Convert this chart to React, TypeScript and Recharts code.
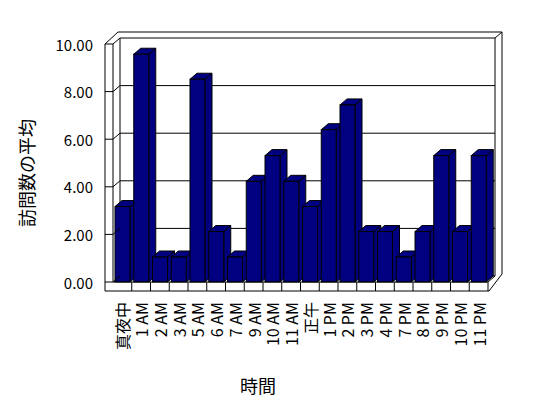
import React from 'react';
import { BarChart, Bar, XAxis, YAxis, CartesianGrid, Customized } from 'recharts';

// hours shown on the category axis
const hours = ['真夜中', '1 AM', '2 AM', '3 AM', '5 AM', '6 AM', '7 AM', '9 AM', '10 AM', '11 AM', '正午', '1 PM', '2 PM', '3 PM', '4 PM', '7 PM', '8 PM', '9 PM', '10 PM', '11 PM'];
// average number of visits
const avgVisits = [3.17, 9.57, 1.05, 1.05, 8.52, 2.12, 1.05, 4.23, 5.31, 4.23, 3.17, 6.4, 7.44, 2.12, 2.12, 1.05, 2.12, 5.31, 2.12, 5.31];
const yTicks = [0, 2, 4, 6, 8, 10];

const data = hours.map((h, i) => ({ name: h, value: avgVisits[i] }));

const W = 548;
const H = 398;
const PL = 113; // plot left (front plane)
const PT = 44;
const PR = 488;
const PB = 282;
const DX = 7; // depth offset
const DY = -6;
const FONT = '"Noto Sans CJK JP", "Noto Sans", sans-serif';
const NAVY = '#000080';

const Box3D = (props: any) => {
    const { x, y, width, height } = props;
    if (!height || height <= 0) return null;
    const r = x + width;
    const b = y + height;
    return (
        <g stroke="#000" strokeWidth={1} fill={NAVY}>
            <polygon points={`${r},${y} ${r + DX},${y + DY} ${r + DX},${b + DY} ${r},${b}`} />
            <polygon points={`${x},${y} ${x + DX},${y + DY} ${r + DX},${y + DY} ${r},${y}`} />
            <rect x={x} y={y} width={width} height={height} />
        </g>
    );
};

const YTick = (props: any) => {
    const { x, y, payload } = props;
    const edge = x + 20; // axis line position
    return (
        <g>
            <line x1={edge} y1={y} x2={edge + DX} y2={y + DY} stroke="#000" />
            <text x={x} y={y} textAnchor="end" dominantBaseline="central" fontSize={15} fill="#000" fontFamily={FONT}>
                {Number(payload.value).toFixed(2)}
            </text>
        </g>
    );
};

const XTick = (props: any) => {
    const { x, payload } = props;
    const ty = PB + 20;
    return (
        <text
            x={x}
            y={ty}
            transform={`rotate(-90, ${x}, ${ty})`}
            textAnchor="end"
            dominantBaseline="central"
            fontSize={16}
            fill="#000"
            fontFamily={FONT}
        >
            {payload.value}
        </text>
    );
};

const Frame = () => {
    const slot = (PR - PL) / hours.length;
    const floorB = PB + 9;
    return (
        <g stroke="#000" strokeWidth={1} fill="none">
            <line x1={PL - 8} y1={PT} x2={PL - 8} y2={floorB} />
            <line x1={PL - 8} y1={PT} x2={PL + 5} y2={PT - 12} />
            <line x1={PL + 5} y1={PT - 12} x2={PR + 14} y2={PT - 12} />
            <line x1={PR + DX} y1={PT + DY} x2={PR + 14} y2={PT - 12} />
            <line x1={PR + 14} y1={PT - 12} x2={PR + 14} y2={floorB - 17} />
            <line x1={PL + DX} y1={PT + DY} x2={PL + DX} y2={PB + DY} />
            <line x1={PR + DX} y1={PT + DY} x2={PR + DX} y2={PB + DY} />
            <line x1={PL - 8} y1={floorB} x2={PR + 1} y2={floorB} />
            <line x1={PR + 1} y1={floorB} x2={PR + 14} y2={floorB - 17} />
            <line x1={PR} y1={PB} x2={PR + DX} y2={PB + DY} />
            {hours.map((_, i) => (
                <line key={i} x1={PL + slot * (i + 1)} y1={PB} x2={PL + slot * (i + 1)} y2={floorB} />
            ))}
            <text
                x={26}
                y={173}
                transform="rotate(-90, 26, 173)"
                textAnchor="middle"
                dominantBaseline="central"
                fontSize={18}
                fill="#000"
                stroke="none"
                fontFamily={FONT}
            >
                訪問数の平均
            </text>
            <text x={258} y={385} textAnchor="middle" dominantBaseline="central" fontSize={18} fill="#000" stroke="none" fontFamily={FONT}>
                時間
            </text>
        </g>
    );
};

export default function App() {
    return (
        <div style={{ width: W, height: H, background: '#fff' }}>
            <style>{`body{margin:0;} .recharts-cartesian-grid{transform:translate(${DX}px,${DY}px);}`}</style>
            <BarChart
                width={W}
                height={H}
                data={data}
                margin={{ top: PT, right: W - PR, bottom: H - PB - 20, left: PL - 60 }}
                style={{ fontFamily: FONT }}
            >
                <CartesianGrid vertical={false} stroke="#000" strokeOpacity={1} />
                <Customized component={<Frame />} />
                <XAxis
                    dataKey="name"
                    height={20}
                    interval={0}
                    axisLine={{ stroke: '#000' }}
                    tickLine={false}
                    tick={<XTick />}
                />
                <YAxis
                    width={60}
                    domain={[0, 10]}
                    ticks={yTicks}
                    tickSize={8}
                    tickMargin={12}
                    axisLine={{ stroke: '#000' }}
                    tickLine={{ stroke: '#000' }}
                    tick={<YTick />}
                />
                <Bar dataKey="value" barSize={15} shape={<Box3D />} isAnimationActive={false} />
            </BarChart>
        </div>
    );
}
